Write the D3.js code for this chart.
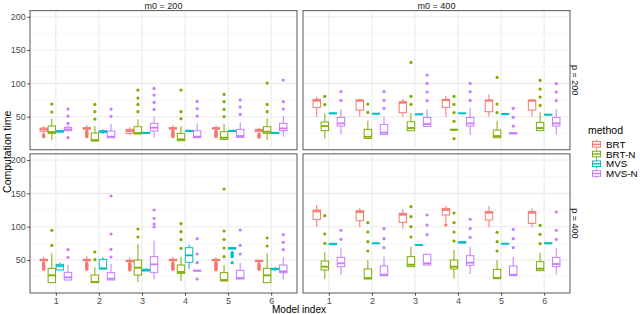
<!DOCTYPE html>
<html><head><meta charset="utf-8">
<script src="https://cdn.jsdelivr.net/npm/d3@7"></script>
<style>
body{margin:0;background:#fff;}
text{font-family:"Liberation Sans",Arial,sans-serif;}
</style></head>
<body>
<script>
const models = ["1","2","3","4","5","6"];
const methods = ["BRT","BRT-N","MVS","MVS-N"];
const colors = ["#F8766D","#7CAE00","#00BFC4","#C77CFF"];
const yTicks = [50,100,150,200];
const yMinor = [25,75,125,175];
const colFacets = ["m0 = 200","m0 = 400"];
const rowFacets = ["p = 200","p = 400"];

// each entry: [lower whisker, q1, median, q3, upper whisker, outliers]
const m200p200_BRT = [
 [26,28,31,33,36,[20,21.5,23]],
 [30,31.5,32.5,33.5,37.5,[20,21.2,22.4,23.6,24.8,26,27.2,28.4]],
 [22,25,28.5,31,34,[]],
 [30,31.5,32.5,33.5,37,[20,21.2,22.4,23.6,24.8,26,27.2,28.4]],
 [30,31.5,32.5,33.5,37,[20,21.2,22.4,23.6,24.8,26,27.2,28.4]],
 [26,27.5,30,31,33,[19,20.5,22,23.5]]];
const m200p200_BRTN = [
 [15,25,27,36,47,[57,69]],
 [13.5,13.5,15,25.5,36,[46.5,57.5,68.5]],
 [24,24,25.5,35,46,[57.5,68.5,78,90]],
 [14,14,16,25,36,[47,57.5,90]],
 [16,16,18.5,27.5,39,[50,61,72.5,83.5]],
 [15,25,27.5,35,47.5,[57.5,68.5,100.5]]];
const m200p200_MVS = [
 [26,27,28,29,30,[]],
 [24,26.5,27.5,29,31,[]],
 [24.5,25,25.5,26.5,27,[]],
 [27,28,28.5,29.5,30.5,[]],
 [27,28,28.5,29.5,30.5,[]],
 [24.5,25,25.5,26.5,27,[]]];
const m200p200_MVSN = [
 [28,29,31,34,37,[18.5,40,51,61.5]],
 [18.5,18.5,20,28.5,39,[50.5,61.5]],
 [18.5,28.5,33.5,40,50,[61,71.5,82.5,92.5]],
 [18.5,18.5,20,29,40,[51,62,73]],
 [19,19,21,31,41.5,[53.5,64.5,75]],
 [20,29,32.5,40,51,[61.5,72.5,105]]];

const m400p200_BRT = [
 [50,64,74,76,80,[]],
 [50,60,74,75,77,[]],
 [50,56,71,72.5,76.5,[]],
 [50,64,75,76,81.5,[]],
 [50,57.5,74,75,83.5,[]],
 [50,60,74,75,76.5,[]]];
const m400p200_BRTN = [
 [17.5,29,36,42,55,[68,80.5]],
 [17.5,17.5,20,31,44,[56.5,69]],
 [29,29,33,42.5,55,[68.5,80.5,131.5]],
 [30,30,30.5,31,31,[17,43,56,68.5,80.5]],
 [18.5,18.5,21,30,44,[56,69,109]],
 [29,29,33,41.5,56.5,[67,79.5,91.5,104.5]]];
const m400p200_MVS = [
 [54,54.5,55,55.5,56,[]],
 [54,54.2,54.5,55,55.5,[]],
 [53,53.2,53.5,54,54.5,[]],
 [55,55,55,55.3,55.5,[]],
 [52,53.5,54,54.5,56,[]],
 [52.5,52.8,53,53.5,54,[]]];
const m400p200_MVSN = [
 [23.5,36,40,49,61.5,[74.5,87.5]],
 [23.5,23.5,26,38.5,50,[62.5,74.5,87.5]],
 [35.5,35.5,39,49,61.5,[74,87,100,112.5]],
 [22.5,36,40,49,62.5,[74.5,87.5,100]],
 [24,24.5,25,26,26.5,[36,49,62.5]],
 [23.5,36,40,49,61.5,[74,87,99.5]]];

const m200p400_BRT = [
 [47,49,50,51,55,[36,37.4,38.8,40.2,41.6,43,44.4,45.6]],
 [47,49,50,51,56,[36,37.4,38.8,40.2,41.6,43,44.4,45.6]],
 [46,47.5,48.5,49.5,53.5,[35,36.4,37.8,39.2,40.6,42,43.4,44.6]],
 [47,49,50,51,55,[36,37.4,38.8,40.2,41.6,43,44.4,45.6]],
 [47,49,50,51,54,[35,36.4,37.8,39.2,40.6,42,43.4,44.8,46]],
 [46,47.5,48.5,49.5,51,[36,37.4,38.8,40.2,41.6,43,44.4]]];
const m200p400_BRTN = [
 [16,16,27,37.5,60,[72,94.5]],
 [16,16,17,27.5,39,[50.5,62]],
 [16.5,27.5,38.5,50,73.5,[84.5,96.5]],
 [18.5,30,32,42.5,55,[67.5,80.5,92.5,104.5]],
 [18.5,18.5,20,31,42.5,[55,68,81,93.5,156.5]],
 [16,16,27,37.5,60,[71,83]]];
const m200p400_MVS = [
 [35,35,41,43.5,46.5,[]],
 [36.5,36.5,37.5,51,54,[]],
 [33.5,33.5,35,36,38,[]],
 [36.5,46.5,57,68.5,73.5,[]],
 [66,66.5,67.5,68.5,69,[46,55,56.5,58,59.5,61]],
 [33,35.5,36.5,37.5,39.5,[]]];
const m200p400_MVSN = [
 [20,20,24,31.5,42.5,[54,65.5]],
 [20,20,22,31,44,[54.5,66,89,146]],
 [21,31.5,43.5,55,79,[99.5,104,112.5,125]],
 [33.5,33.5,34,34.5,34.5,[21.5,46,59,82]],
 [21.5,21.5,23,34.5,45.5,[59,72,95]],
 [21,31,33,42.5,54,[65.5,76.5,88]]];

const m400p400_BRT = [
 [100,111,123,125,132.5,[]],
 [99,109,122,124,128,[]],
 [97,106.5,118,120,126,[]],
 [105,117.5,125,127.5,131,[102.5]],
 [99,110,121,122.5,131,[]],
 [99,105,121,122.5,127,[]]];
const m400p400_BRTN = [
 [21.5,35,40,48.5,61.5,[75,89,116.5]],
 [21.5,21.5,23,36.5,50,[63.5,77.5,92,106]],
 [40,40,43,55,70,[84.5,100,115,130]],
 [22,36.5,40,50,65,[78.5,92,106,120.5]],
 [22,22,23,36,50,[63.5,77.5,91.5]],
 [34,34,37,47.5,61,[74.5,88.5,102]]];
const m400p400_MVS = [
 [72,73,74,75,76,[]],
 [74.5,74.7,75,75.3,75.5,[]],
 [72,72.2,72.5,72.8,73,[]],
 [74.5,75.5,76.5,77.5,78.5,[]],
 [74,74.2,74.5,74.8,75,[]],
 [74,74.5,75,75.5,76,[]]];
const m400p400_MVSN = [
 [27.5,40,45,54,67.5,[81,94.5]],
 [26.5,26.5,28,41,55,[68.5,82,97]],
 [42.5,42.5,45,58.5,58.5,[88,102.5,117.5]],
 [29,42,46,56.5,70,[84,97,111]],
 [26.5,26.5,28,41,55,[68.5,82,96]],
 [28,40,44,54,67.5,[81,94.5,122]]];

const panels = [
 {col:0,row:0,series:[m200p200_BRT,m200p200_BRTN,m200p200_MVS,m200p200_MVSN]},
 {col:1,row:0,series:[m400p200_BRT,m400p200_BRTN,m400p200_MVS,m400p200_MVSN]},
 {col:0,row:1,series:[m200p400_BRT,m200p400_BRTN,m200p400_MVS,m200p400_MVSN]},
 {col:1,row:1,series:[m400p400_BRT,m400p400_BRTN,m400p400_MVS,m400p400_MVSN]}
];

const W=640,H=314;
const colRanges=[[30,297],[303,570]];
const rowRanges=[[149.7,10.6],[293,153.9]];
const yDomain=[0.5,209.2];
const axisCol="#4D4D4D";

const svg=d3.select("body").append("svg").attr("width",W).attr("height",H);
svg.append("rect").attr("width",W).attr("height",H).attr("fill","#fff");

panels.forEach(p=>{
  const [x0,x1]=colRanges[p.col];
  const [yb,yt]=rowRanges[p.row];
  const x=d3.scalePoint().domain(models).range([x0,x1]).padding(0.6);
  const y=d3.scaleLinear().domain(yDomain).range([yb,yt]);
  const dodge=d3.scaleBand().domain(methods).range([-0.375*x.step(),0.375*x.step()]);
  const bw=dodge.bandwidth()*0.92;
  const g=svg.append("g");
  g.append("rect").attr("x",x0).attr("y",yt).attr("width",x1-x0).attr("height",yb-yt).attr("fill","#fff");
  g.selectAll(".mn").data(yMinor).join("line").attr("x1",x0).attr("x2",x1)
    .attr("y1",d=>y(d)).attr("y2",d=>y(d)).attr("stroke","#f2f2f2").attr("stroke-width",0.6);
  g.selectAll(".mj").data(yTicks).join("line").attr("x1",x0).attr("x2",x1)
    .attr("y1",d=>y(d)).attr("y2",d=>y(d)).attr("stroke","#ebebeb").attr("stroke-width",1.1);
  g.selectAll(".vx").data(models).join("line").attr("y1",yt).attr("y2",yb)
    .attr("x1",d=>x(d)).attr("x2",d=>x(d)).attr("stroke","#ebebeb").attr("stroke-width",1.1);

  p.series.forEach((ser,mi)=>{
    const col=colors[mi];
    ser.forEach((s,gi)=>{
      const cx=x(models[gi])+dodge(methods[mi])+dodge.bandwidth()/2;
      const [lo,q1,md,q3,hi,outs]=s;
      const bg=g.append("g");
      bg.append("line").attr("x1",cx).attr("x2",cx).attr("y1",y(q3)).attr("y2",y(hi)).attr("stroke",col).attr("stroke-width",1);
      bg.append("line").attr("x1",cx).attr("x2",cx).attr("y1",y(q1)).attr("y2",y(lo)).attr("stroke",col).attr("stroke-width",1);
      bg.append("rect").attr("x",cx-bw/2).attr("width",bw).attr("y",y(q3)).attr("height",Math.max(0,y(q1)-y(q3)))
        .attr("fill","#fff").attr("stroke",col).attr("stroke-width",1);
      bg.append("line").attr("x1",cx-bw/2).attr("x2",cx+bw/2).attr("y1",y(md)).attr("y2",y(md)).attr("stroke",col).attr("stroke-width",1.8);
      bg.selectAll("circle").data(outs).join("circle").attr("cx",cx).attr("cy",d=>y(d)).attr("r",1.6).attr("fill",col);
    });
  });
  g.append("rect").attr("x",x0).attr("y",yt).attr("width",x1-x0).attr("height",yb-yt)
    .attr("fill","none").attr("stroke","#666").attr("stroke-width",1.1);

  if(p.col===0){
    const ax=svg.append("g").attr("transform",`translate(${x0},0)`).call(d3.axisLeft(y).tickValues(yTicks).tickSize(2.7).tickPadding(1.5));
    ax.select(".domain").remove();
    ax.selectAll("line").attr("stroke","#333").attr("stroke-width",0.9);
    ax.selectAll("text").attr("fill",axisCol).style("font-size","9px");
  }
  if(p.row===1){
    const ax=svg.append("g").attr("transform",`translate(0,${yb})`).call(d3.axisBottom(x).tickSize(2.7).tickPadding(1.5));
    ax.select(".domain").remove();
    ax.selectAll("line").attr("stroke","#333").attr("stroke-width",0.9);
    ax.selectAll("text").attr("fill",axisCol).style("font-size","9px");
  }
  if(p.row===0){
    svg.append("text").attr("x",(x0+x1)/2).attr("y",8.6).attr("text-anchor","middle")
      .attr("fill","#1a1a1a").style("font-size","9px").text(colFacets[p.col]);
  }
  if(p.col===1){
    svg.append("text").attr("transform",`translate(${x1+1.8},${(yt+yb)/2}) rotate(90)`).attr("text-anchor","middle")
      .attr("fill","#1a1a1a").style("font-size","9px").text(rowFacets[p.row]);
  }
});

svg.append("text").attr("transform",`translate(10.5,${(10.6+293)/2}) rotate(-90)`).attr("text-anchor","middle")
  .attr("fill","#000").style("font-size","10.5px").text("Computation time");
svg.append("text").attr("x",299).attr("y",312.5).attr("text-anchor","middle")
  .attr("fill","#000").style("font-size","10px").text("Model index");

// legend
const leg=svg.append("g");
leg.append("text").attr("x",588).attr("y",133.5).attr("fill","#000").style("font-size","10.5px").text("method");
const ly=d3.scalePoint().domain(methods).range([144.3,173.5]);
methods.forEach((m,i)=>{
  const cy=ly(m), cx=596.5, c=colors[i];
  leg.append("line").attr("x1",cx).attr("x2",cx).attr("y1",cy-4.5).attr("y2",cy+4.5).attr("stroke",c).attr("stroke-width",1);
  leg.append("rect").attr("x",cx-4).attr("y",cy-2.8).attr("width",8).attr("height",5.6).attr("fill","#fff").attr("stroke",c).attr("stroke-width",1);
  leg.append("line").attr("x1",cx-4).attr("x2",cx+4).attr("y1",cy).attr("y2",cy).attr("stroke",c).attr("stroke-width",1.4);
  leg.append("text").attr("x",606).attr("y",cy+3.5).attr("fill","#000").style("font-size","9.8px").text(m);
});
</script>
</body></html>
